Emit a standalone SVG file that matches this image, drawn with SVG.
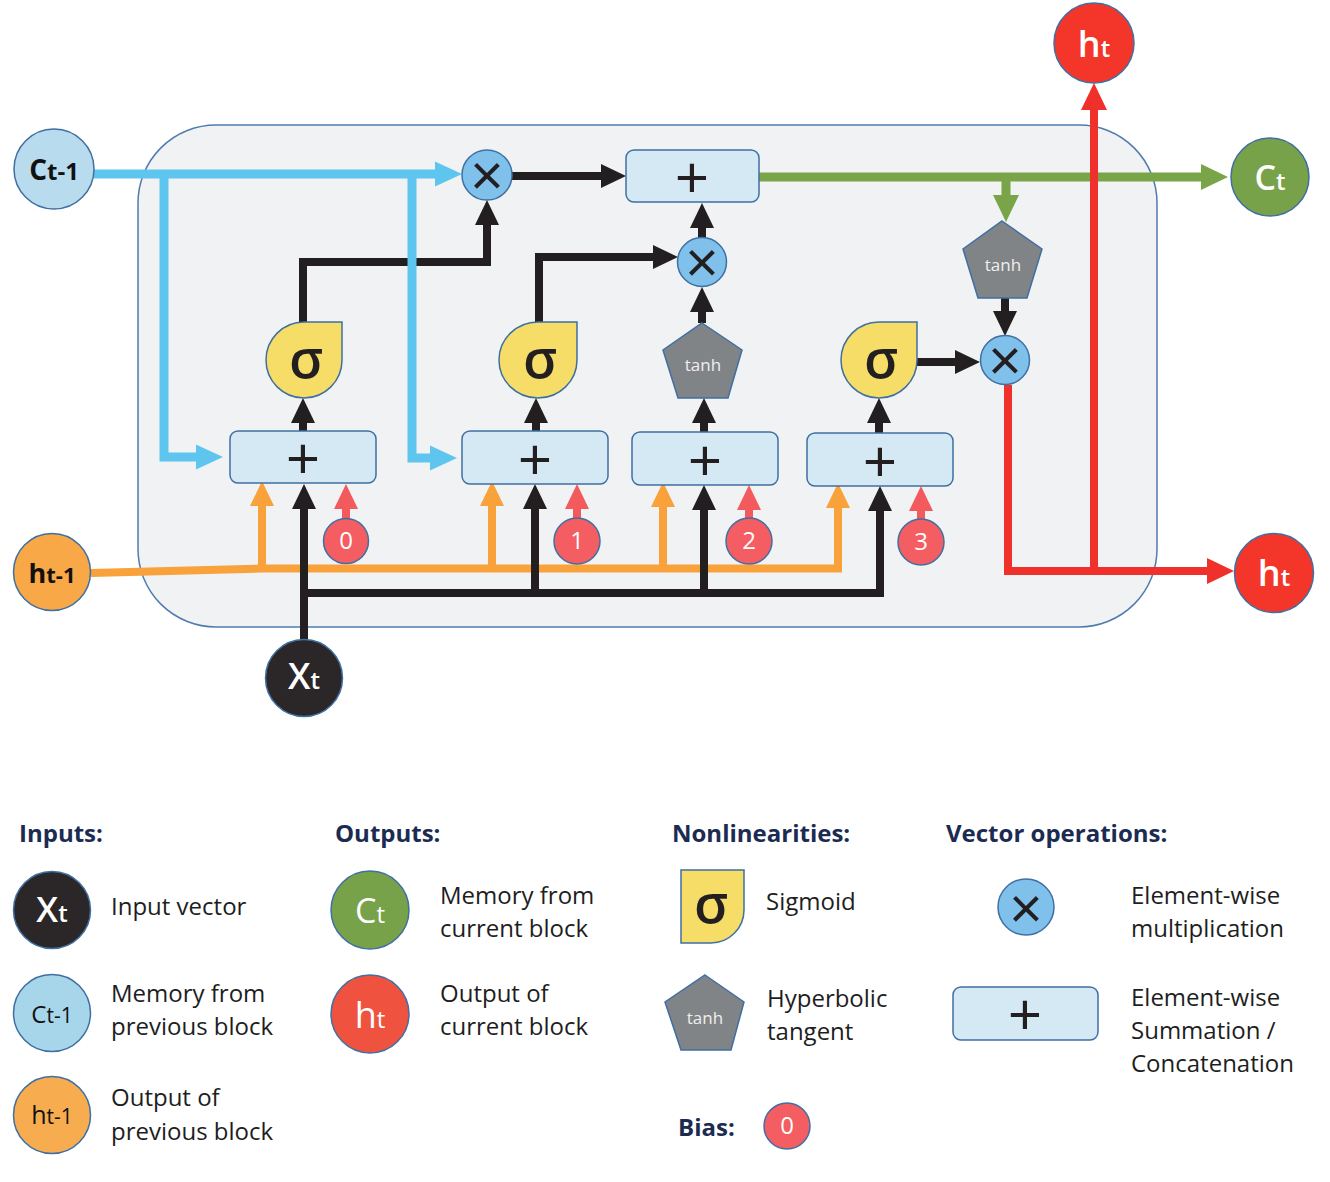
<svg xmlns="http://www.w3.org/2000/svg" width="1330" height="1182" viewBox="0 0 1330 1182">
<style>
  marker{overflow:visible}
  .ln{fill:none;stroke-linejoin:miter;stroke-linecap:butt}
  .blue{stroke:#5ec6ee;stroke-width:9}
  .blk{stroke:#231f20;stroke-width:8}
  .org{stroke:#f9a13a;stroke-width:8}
  .grn{stroke:#79a548;stroke-width:9}
  .red{stroke:#f0302a;stroke-width:8}
  .bia{stroke:#f25a5e;stroke-width:8}
  .box{fill:#d4e9f3;stroke:#3f6fa3;stroke-width:1.5}
  .mul{fill:#80c1ec;stroke:#3f6fa3;stroke-width:1.5}
  .sig{fill:#f5dd68;stroke:#3f6fa3;stroke-width:1.5}
  .tnh{fill:#818486;stroke:#3f6fa3;stroke-width:1.5}
  .bc{fill:#f45d62;stroke:#3f6fa3;stroke-width:1.5}
  .op{font-family:"Liberation Sans",Arial,sans-serif;font-size:58px;fill:#231f20;text-anchor:middle}
  .sg{font-family:"Open Sans",sans-serif;font-size:54px;font-weight:600;fill:#231f20;text-anchor:middle}
  .th{font-family:"Open Sans",sans-serif;font-size:17px;fill:#eeeeee;text-anchor:middle}
  .nm{font-family:"Open Sans",sans-serif;text-anchor:middle}
  .bn{font-family:"Open Sans",sans-serif;font-size:24px;fill:#ffffff;text-anchor:middle}
  .hd{font-family:"Open Sans",sans-serif;font-size:24px;font-weight:700;fill:#1b2b52}
  .lt{font-family:"Open Sans",sans-serif;font-size:24px;fill:#1e1e1e}
</style>
<defs>
  <marker id="aBlue" markerUnits="userSpaceOnUse" markerWidth="26" markerHeight="26" viewBox="0 -13 26 26" refX="0" refY="0" orient="auto"><path d="M-1,-12.5 L26,0 L-1,12.5 z" fill="#5ec6ee"/></marker>
  <marker id="aBlk" markerUnits="userSpaceOnUse" markerWidth="26" markerHeight="26" viewBox="0 -13 26 26" refX="0" refY="0" orient="auto"><path d="M-1,-12 L24,0 L-1,12 z" fill="#231f20"/></marker>
  <marker id="aOrg" markerUnits="userSpaceOnUse" markerWidth="26" markerHeight="26" viewBox="0 -13 26 26" refX="0" refY="0" orient="auto"><path d="M-1,-12 L24,0 L-1,12 z" fill="#f9a13a"/></marker>
  <marker id="aGrn" markerUnits="userSpaceOnUse" markerWidth="26" markerHeight="26" viewBox="0 -13 26 26" refX="0" refY="0" orient="auto"><path d="M-1,-13 L26,0 L-1,13 z" fill="#79a548"/></marker>
  <marker id="aRed" markerUnits="userSpaceOnUse" markerWidth="26" markerHeight="26" viewBox="0 -13 26 26" refX="0" refY="0" orient="auto"><path d="M-1,-13 L26,0 L-1,13 z" fill="#f0302a"/></marker>
  <marker id="aBia" markerUnits="userSpaceOnUse" markerWidth="26" markerHeight="26" viewBox="0 -13 26 26" refX="0" refY="0" orient="auto"><path d="M-1,-12 L24,0 L-1,12 z" fill="#f25a5e"/></marker>
</defs>

<rect width="1330" height="1182" fill="#ffffff"/>

<g id="cell">
  <rect x="138" y="125" width="1019" height="502" rx="78" ry="78" fill="#f1f2f3" stroke="#4f7cae" stroke-width="1.5"/>
</g>

<g id="connectors">
  <!-- green cell state out -->
  <path class="ln grn" d="M759,177 H1202" marker-end="url(#aGrn)"/>
  <path class="ln grn" d="M1006,177 V196" marker-end="url(#aGrn)"/>
  <!-- orange h(t-1) -->
  <path class="ln org" d="M91,573 L262,568.5 H838 V507" marker-end="url(#aOrg)"/>
  <path class="ln org" d="M262,568.5 V505" marker-end="url(#aOrg)"/>
  <path class="ln org" d="M492,568.5 V505" marker-end="url(#aOrg)"/>
  <path class="ln org" d="M663,568.5 V506" marker-end="url(#aOrg)"/>
  <!-- black x(t) -->
  <path class="ln blk" d="M304,639 V508" marker-end="url(#aBlk)"/>
  <path class="ln blk" d="M304,593 H880 V510" marker-end="url(#aBlk)"/>
  <path class="ln blk" d="M535,593 V508" marker-end="url(#aBlk)"/>
  <path class="ln blk" d="M704,593 V509" marker-end="url(#aBlk)"/>
  <!-- black internal -->
  <path class="ln blk" d="M512,176 H602" marker-end="url(#aBlk)"/>
  <path class="ln blk" d="M303,322 V262 H487 V224" marker-end="url(#aBlk)"/>
  <path class="ln blk" d="M539,322 V257 H654" marker-end="url(#aBlk)"/>
  <path class="ln blk" d="M702,323 V311" marker-end="url(#aBlk)"/>
  <path class="ln blk" d="M702,238 V227" marker-end="url(#aBlk)"/>
  <path class="ln blk" d="M303,431 V422" marker-end="url(#aBlk)"/>
  <path class="ln blk" d="M536,431 V422" marker-end="url(#aBlk)"/>
  <path class="ln blk" d="M704,432 V422" marker-end="url(#aBlk)"/>
  <path class="ln blk" d="M879,433 V422" marker-end="url(#aBlk)"/>
  <path class="ln blk" d="M917,362 H956" marker-end="url(#aBlk)"/>
  <path class="ln blk" d="M1005,298 V312" marker-end="url(#aBlk)"/>
  <!-- blue c(t-1) -->
  <path class="ln blue" d="M94,174 H436" marker-end="url(#aBlue)"/>
  <path class="ln blue" d="M164,174 V457 H197" marker-end="url(#aBlue)"/>
  <path class="ln blue" d="M412,174 V458 H431" marker-end="url(#aBlue)"/>
  <!-- red h(t) -->
  <path class="ln red" d="M1008,385 V571 H1208" marker-end="url(#aRed)"/>
  <path class="ln red" d="M1094,571 V109" marker-end="url(#aRed)"/>
  <!-- biases -->
  <path class="ln bia" d="M346,519 V508" marker-end="url(#aBia)"/>
  <path class="ln bia" d="M577,519 V508" marker-end="url(#aBia)"/>
  <path class="ln bia" d="M749,519 V509" marker-end="url(#aBia)"/>
  <path class="ln bia" d="M921,520 V510" marker-end="url(#aBia)"/>
</g>

<g id="c_prev">
  <circle cx="54" cy="169" r="40" fill="#b8dcee" stroke="#3f6fa3" stroke-width="1.5"/>
  <text class="nm" x="54" y="180" font-weight="700" fill="#111"><tspan font-size="28">C</tspan><tspan font-size="24">t-1</tspan></text>
</g>
<g id="h_prev">
  <circle cx="52" cy="572" r="38.5" fill="#f8a847" stroke="#3f6fa3" stroke-width="1.5"/>
  <text class="nm" x="52" y="583" font-weight="700" fill="#111"><tspan font-size="27">h</tspan><tspan font-size="22">t-1</tspan></text>
</g>
<g id="x_t">
  <circle cx="304" cy="678" r="38.5" fill="#2b2627" stroke="#3f6fa3" stroke-width="1.5"/>
  <text class="nm" x="304" y="689" font-weight="600" fill="#fff"><tspan font-size="36">X</tspan><tspan font-size="24">t</tspan></text>
</g>
<g id="h_top">
  <circle cx="1094" cy="43" r="40" fill="#f4352a" stroke="#3f6fa3" stroke-width="1.5"/>
  <text class="nm" x="1094" y="57" font-weight="600" fill="#fff"><tspan font-size="36">h</tspan><tspan font-size="24">t</tspan></text>
</g>
<g id="c_t">
  <circle cx="1270" cy="177" r="39" fill="#77a24a" stroke="#3f6fa3" stroke-width="1.5"/>
  <text class="nm" x="1270" y="190" font-weight="600" fill="#fff"><tspan font-size="34">C</tspan><tspan font-size="24">t</tspan></text>
</g>
<g id="h_t">
  <circle cx="1274" cy="573" r="39.5" fill="#f4352a" stroke="#3f6fa3" stroke-width="1.5"/>
  <text class="nm" x="1274" y="586" font-weight="600" fill="#fff"><tspan font-size="36">h</tspan><tspan font-size="24">t</tspan></text>
</g>

<g id="mul_forget">
  <circle class="mul" cx="487" cy="175" r="25"/>
  <text class="op" x="487" y="194.5">×</text>
</g>
<g id="add_cell">
  <rect class="box" x="626" y="150" width="133" height="52" rx="8"/>
  <text class="op" x="692" y="197">+</text>
</g>
<g id="mul_input">
  <circle class="mul" cx="702" cy="262" r="24.5"/>
  <text class="op" x="702" y="281.5">×</text>
</g>
<g id="mul_output">
  <circle class="mul" cx="1005" cy="360" r="24.5"/>
  <text class="op" x="1005" y="379.5">×</text>
</g>

<g id="sig_forget">
  <path class="sig" d="M304,322 H342 V360 A38,38 0 1 1 304,322 Z"/>
  <text class="sg" x="306" y="378">σ</text>
</g>
<g id="sig_input">
  <path class="sig" d="M538,322 H577 V360 A39,38 0 1 1 538,322 Z"/>
  <text class="sg" x="540" y="378">σ</text>
</g>
<g id="tanh_cand">
  <polygon class="tnh" points="702,323 742,350 728,398 678,398 663,350"/>
  <text class="th" x="703" y="371">tanh</text>
</g>
<g id="sig_output">
  <path class="sig" d="M879,322 H917 V360 A38,38 0 1 1 879,322 Z"/>
  <text class="sg" x="881" y="378">σ</text>
</g>
<g id="tanh_out">
  <polygon class="tnh" points="1002,221 1042,249 1027,298 978,298 963,249"/>
  <text class="th" x="1003" y="271">tanh</text>
</g>

<g id="add_f">
  <rect class="box" x="230" y="431" width="146" height="52" rx="8"/>
  <text class="op" x="303" y="477.5">+</text>
</g>
<g id="add_i">
  <rect class="box" x="462" y="431" width="146" height="53" rx="8"/>
  <text class="op" x="535" y="478.5">+</text>
</g>
<g id="add_c">
  <rect class="box" x="632" y="432" width="146" height="53" rx="8"/>
  <text class="op" x="705" y="479.5">+</text>
</g>
<g id="add_o">
  <rect class="box" x="807" y="433" width="146" height="53" rx="8"/>
  <text class="op" x="880" y="480.5">+</text>
</g>

<g id="bias0"><circle class="bc" cx="346" cy="541" r="22.5"/><text class="bn" x="346" y="549">0</text></g>
<g id="bias1"><circle class="bc" cx="577" cy="541" r="23"/><text class="bn" x="577" y="549">1</text></g>
<g id="bias2"><circle class="bc" cx="749" cy="541" r="23"/><text class="bn" x="749" y="549">2</text></g>
<g id="bias3"><circle class="bc" cx="921" cy="542" r="23"/><text class="bn" x="921" y="550">3</text></g>

<g id="legend">
  <text class="hd" x="19" y="842">Inputs:</text>
  <text class="hd" x="335" y="842">Outputs:</text>
  <text class="hd" x="672" y="842">Nonlinearities:</text>
  <text class="hd" x="946" y="842">Vector operations:</text>

  <g id="lg_xt">
    <circle cx="52" cy="910" r="38.5" fill="#2b2627" stroke="#3f6fa3" stroke-width="1.5"/>
    <text class="nm" x="52" y="922" font-weight="600" fill="#fff"><tspan font-size="35">X</tspan><tspan font-size="24">t</tspan></text>
    <text class="lt" x="111" y="915">Input vector</text>
  </g>
  <g id="lg_cprev">
    <circle cx="52" cy="1013" r="38.5" fill="#a7d5ea" stroke="#3f6fa3" stroke-width="1.5"/>
    <text class="nm" x="52" y="1023" font-weight="500" fill="#111"><tspan font-size="24">C</tspan><tspan font-size="21">t-1</tspan></text>
    <text class="lt" x="111" y="1002">Memory from</text>
    <text class="lt" x="111" y="1035">previous block</text>
  </g>
  <g id="lg_hprev">
    <circle cx="52" cy="1115" r="38.5" fill="#f7ad4f" stroke="#3f6fa3" stroke-width="1.5"/>
    <text class="nm" x="52" y="1124" font-weight="500" fill="#111"><tspan font-size="25">h</tspan><tspan font-size="21">t-1</tspan></text>
    <text class="lt" x="111" y="1106">Output of</text>
    <text class="lt" x="111" y="1140">previous block</text>
  </g>
  <g id="lg_ct">
    <circle cx="370" cy="910" r="39" fill="#77a24a" stroke="#3f6fa3" stroke-width="1.5"/>
    <text class="nm" x="370" y="923" font-weight="500" fill="#fff"><tspan font-size="34">C</tspan><tspan font-size="24">t</tspan></text>
    <text class="lt" x="440" y="904">Memory from</text>
    <text class="lt" x="440" y="937">current block</text>
  </g>
  <g id="lg_ht">
    <circle cx="370" cy="1014" r="39" fill="#ef5340" stroke="#3f6fa3" stroke-width="1.5"/>
    <text class="nm" x="370" y="1028" font-weight="500" fill="#fff"><tspan font-size="36">h</tspan><tspan font-size="24">t</tspan></text>
    <text class="lt" x="440" y="1002">Output of</text>
    <text class="lt" x="440" y="1035">current block</text>
  </g>
  <g id="lg_sig">
    <path class="sig" d="M681,870 H744 V910 A33,33 0 0 1 711,943 H681 Z"/>
    <text class="sg" x="711" y="923" font-size="50">σ</text>
    <text class="lt" x="766" y="910">Sigmoid</text>
  </g>
  <g id="lg_tanh">
    <polygon class="tnh" points="705,975 744,1002 731,1050 681,1050 665,1002"/>
    <text class="th" x="705" y="1024">tanh</text>
    <text class="lt" x="767" y="1007">Hyperbolic</text>
    <text class="lt" x="767" y="1040">tangent</text>
  </g>
  <g id="lg_mul">
    <circle class="mul" cx="1026" cy="907" r="28"/>
    <text class="op" x="1026" y="927.5">×</text>
    <text class="lt" x="1131" y="904">Element-wise</text>
    <text class="lt" x="1131" y="937">multiplication</text>
  </g>
  <g id="lg_add">
    <rect class="box" x="953" y="987" width="145" height="53" rx="8"/>
    <text class="op" x="1025" y="1034">+</text>
    <text class="lt" x="1131" y="1006">Element-wise</text>
    <text class="lt" x="1131" y="1039">Summation /</text>
    <text class="lt" x="1131" y="1072">Concatenation</text>
  </g>
  <g id="lg_bias">
    <text class="hd" x="678" y="1136">Bias:</text>
    <circle class="bc" cx="787" cy="1126" r="23"/>
    <text class="bn" x="787" y="1134">0</text>
  </g>
</g>
</svg>
